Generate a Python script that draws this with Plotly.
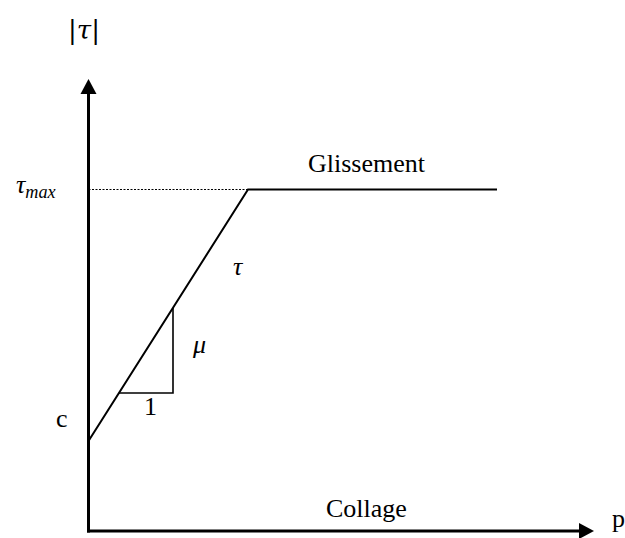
import plotly.graph_objects as go

# Coulomb friction law: shear |tau| versus contact pressure p
c = 90.0            # cohesion (intercept on the |tau| axis)
tau_max = 341.5     # saturation shear stress
p_knee = 159.5      # pressure where the sliding threshold is reached
p_end = 408.5       # right end of the plateau

curve_p = [0.0, p_knee, p_end]
curve_tau = [c, tau_max, tau_max]

# slope triangle (run 1, rise mu)
tri_p = [30.5, 84.5, 84.5]
tri_tau = [138.0, 138.0, 223.0]

# extent of the drawn axes
p_axis_len = 505.5
tau_axis_len = 452.0

serif = "Liberation Serif"
fs = 26

fig = go.Figure()

# dotted guide from the |tau| axis to the knee
fig.add_trace(go.Scatter(
    x=[0.0, p_knee], y=[tau_max, tau_max], mode="lines",
    line=dict(color="black", width=1.2, dash="2px,1.5px"), hoverinfo="skip"))

# friction law
fig.add_trace(go.Scatter(
    x=curve_p, y=curve_tau, mode="lines",
    line=dict(color="black", width=2), hoverinfo="skip"))

# slope triangle
fig.add_trace(go.Scatter(
    x=tri_p, y=tri_tau, mode="lines",
    line=dict(color="black", width=1.6), hoverinfo="skip"))

# axes drawn as lines ending in filled arrow heads
head_len, head_half = 15.0, 8.0
shapes = [
    dict(type="line", xref="x", yref="y", x0=-1.5, y0=0, x1=p_axis_len - head_len + 1, y1=0,
         line=dict(color="black", width=3)),
    dict(type="line", xref="x", yref="y", x0=0, y0=-1.5, x1=0, y1=tau_axis_len - head_len + 1,
         line=dict(color="black", width=3)),
    dict(type="path", xref="x", yref="y",
         path=f"M {p_axis_len},0 L {p_axis_len - head_len},{head_half} "
              f"L {p_axis_len - head_len},{-head_half} Z",
         fillcolor="black", line=dict(color="black", width=0)),
    dict(type="path", xref="x", yref="y",
         path=f"M 0,{tau_axis_len} L {-head_half},{tau_axis_len - head_len} "
              f"L {head_half},{tau_axis_len - head_len} Z",
         fillcolor="black", line=dict(color="black", width=0)),
]

labels = [
    ("|<i>τ</i>|", -4.5, 501, "DejaVu Serif"),
    ("<i>τ</i><sub><i>max</i></sub>", -52.5, 345, serif),
    ("Glissement", 278.5, 368, serif),
    ("<i>τ</i>", 149.5, 265, serif),
    ("<i>μ</i>", 110.5, 187, serif),
    ("1", 61.5, 125, serif),
    ("c", -26.5, 113, serif),
    ("Collage", 277.5, 23, serif),
    ("p", 529.5, 13, serif),
]
annotations = []
for text, x, y, fam in labels:
    annotations.append(dict(x=x, y=y, xref="x", yref="y", text=text, showarrow=False,
                            xanchor="center", yanchor="middle",
                            font=dict(family=fam, size=fs, color="black")))

fig.update_layout(
    width=625, height=538,
    margin=dict(l=0, r=0, t=0, b=0),
    paper_bgcolor="white", plot_bgcolor="white",
    showlegend=False,
    annotations=annotations,
    shapes=shapes,
    xaxis=dict(range=[-88.5, 536.5], visible=False, fixedrange=True),
    yaxis=dict(range=[-7, 531], visible=False, fixedrange=True),
)

fig.write_html("out.html")
